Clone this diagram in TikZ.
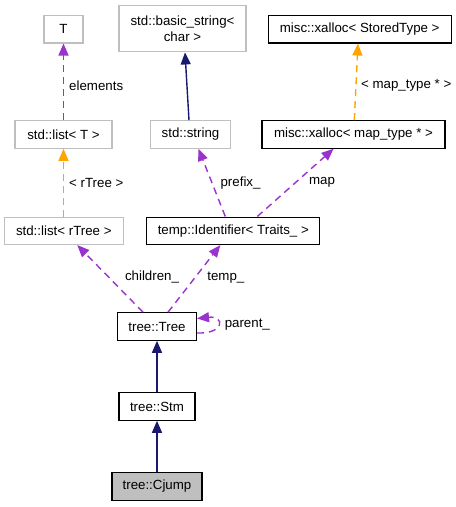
\documentclass[tikz,border=0pt]{standalone}
\usepackage{fontspec}
\setmainfont{Liberation Sans}
\usetikzlibrary{arrows.meta}
\definecolor{navy}{HTML}{191970}
\definecolor{orchid}{HTML}{9A32CD}
\definecolor{amber}{HTML}{FFA500}
\definecolor{lgray}{HTML}{BFBFBF}
\begin{document}
\begin{tikzpicture}[x=1pt, y=-1pt,
	every node/.style = {font=\fontsize{13.3}{16.5}\selectfont},
	cls/.style = {draw=black, line width=1.1pt, inner xsep=0pt, minimum height=27.5pt},
	ext/.style = {draw=lgray, line width=1.1pt, inner xsep=0pt, minimum height=27.5pt},
	tip/.style = {-{Triangle[length=12pt,width=10pt]}, line width=1.4pt},
	inherit/.style = {tip, navy},
	usage/.style = {tip, orchid, dash pattern=on 7pt off 5pt},
	templ/.style = {tip, amber, dash pattern=on 7pt off 5pt},
	lbl/.style = {anchor=west, inner xsep=0pt, text=black}]
	
	\useasboundingbox (0,0) rectangle (456,507);
	
	% classes of the diagram
	\node[ext, minimum width=39pt] (T) at (63.5,29.2) {T};
	\node[ext, minimum width=127pt, minimum height=46pt, align=center] (basic) at (182.5,28.9) {std::basic\_string<\\char >};
	\node[cls, minimum width=183pt] (xstored) at (359.7,29.2) {misc::xalloc< StoredType >};
	\node[ext, minimum width=97pt] (listT) at (63.5,134.5) {std::list< T >};
	\node[ext, minimum width=80pt] (string) at (190.5,134.5) {std::string};
	\node[cls, minimum width=183pt] (xmap) at (353.5,134.5) {misc::xalloc< map\_type * >};
	\node[ext, minimum width=119pt] (listR) at (63.8,230.8) {std::list< rTree >};
	\node[cls, minimum width=173pt] (ident) at (233.3,230.8) {temp::Identifier< Traits\_ >};
	\node[cls, minimum width=79pt] (tree) at (157,326.5) {tree::Tree};
	\node[cls, minimum width=76pt] (stm) at (157,406.5) {tree::Stm};
	\node[cls, minimum width=90pt, fill=lgray] (cjump) at (157,486.5) {tree::Cjump};
	
	\draw[usage] (listT) -- node[lbl, pos=0.45, xshift=5pt] {elements} (T);
	\draw[inherit] ([xshift=-1.5pt]string.north) -- ([xshift=2.5pt]basic.south);
	\draw[templ] ([xshift=0.8pt]xmap.north) -- node[lbl, pos=0.45, xshift=4.5pt] {< map\_type * >} ([xshift=-1.7pt]xstored.south);
	\draw[templ] ([xshift=-0.3pt]listR.north) -- node[lbl, xshift=5pt] {< rTree >} (listT);
	\draw[usage] ([xshift=-8pt]ident.north) -- node[lbl, xshift=8pt] {prefix\_} ([xshift=8pt]string.south);
	\draw[usage] ([xshift=24pt]ident.north) -- node[lbl, xshift=13pt] {map} ([xshift=-20pt]xmap.south);
	\draw[usage] ([xshift=-14pt]tree.north) -- node[lbl, pos=0.52, xshift=15.5pt] {children\_} ([xshift=13.5pt]listR.south);
	\draw[usage] ([xshift=11pt]tree.north) -- node[lbl, pos=0.52, xshift=11.5pt] {temp\_} ([xshift=-13pt]ident.south);
	\draw[usage] ([yshift=-6.5pt]tree.east) .. controls +(28,1) and +(28,-3) .. node[lbl, xshift=6pt] {parent\_} ([yshift=8pt]tree.east);
	\draw[inherit] (stm) -- (tree);
	\draw[inherit] (cjump) -- (stm);
\end{tikzpicture}
\end{document}
